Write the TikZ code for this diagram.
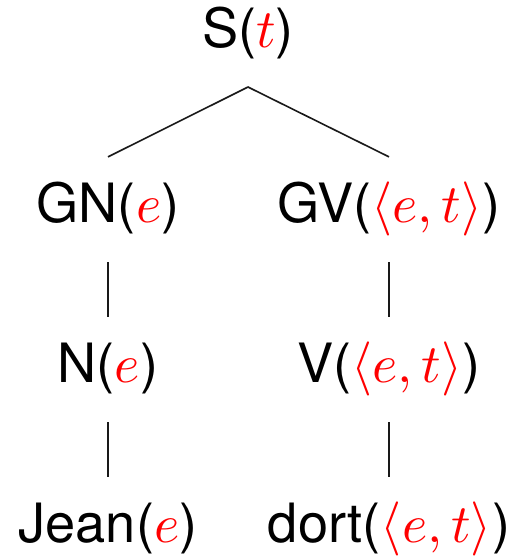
\documentclass[tikz,border=0pt]{standalone}
\usepackage{fontspec}
\setmainfont{TeX Gyre Heros}
\begin{document}
\begin{tikzpicture}[x=1pt,y=1pt,
  cat/.style={anchor=base,inner sep=0pt,scale=5.42,text height=12.0pt,text depth=7.0pt,font=\fontsize{10}{12}\selectfont},
  edge/.style={line width=1.6pt,draw=black!90}]
\useasboundingbox (0,0) rectangle (514,557);
\newcommand{\ty}[1]{\textcolor{red}{$#1$}}
\node[cat] (S)  at (248,557-48)  {S(\ty{t})};
\node[cat] (GN) at (108,557-223) {GN(\ty{e})};
\node[cat] (GV) at (389,557-223) {GV(\ty{\langle e,t\rangle})};
\node[cat] (N)  at (108,557-383) {N(\ty{e})};
\node[cat] (V)  at (389,557-383) {V(\ty{\langle e,t\rangle})};
\node[cat] (J)  at (108,557-543) {Jean(\ty{e})};
\node[cat] (D)  at (389,557-543) {dort(\ty{\langle e,t\rangle})};
\draw[edge] (GN.north) -- (S.south) -- (GV.north);
\draw[edge] (GN.south) -- (N.north);
\draw[edge] (N.south) -- (J.north);
\draw[edge] (GV.south) -- (V.north);
\draw[edge] (V.south) -- (D.north);
\end{tikzpicture}
\end{document}
